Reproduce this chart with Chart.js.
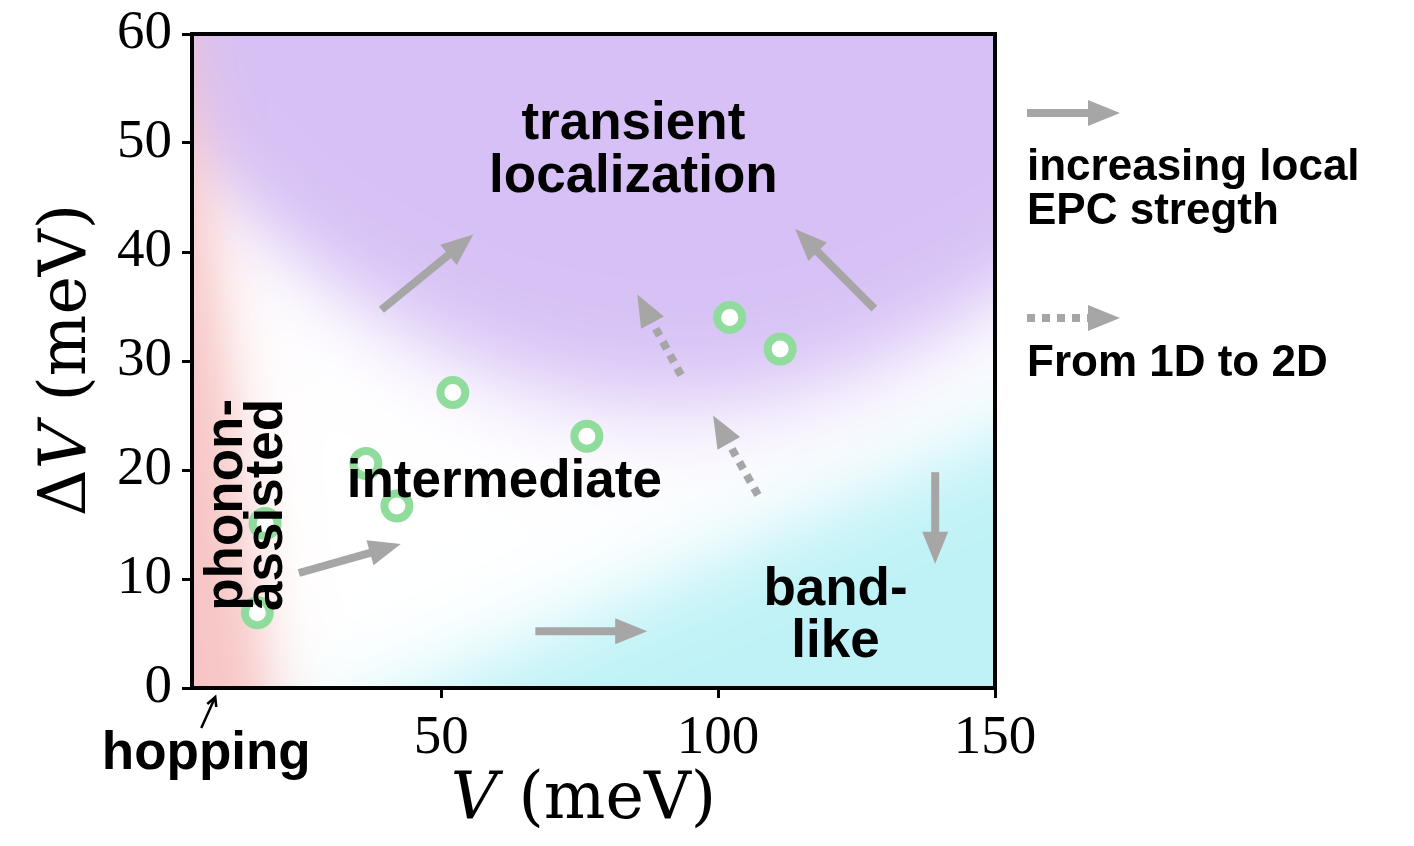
<!DOCTYPE html>
<html>
<head>
<meta charset="utf-8">
<script src="https://cdn.jsdelivr.net/npm/chart.js@4.4.1/dist/chart.umd.min.js"></script>
<style>
  body { margin: 0; background: #fff; }
  #wrap { width: 1414px; height: 846px; }
</style>
</head>
<body>
<div id="wrap"><canvas id="regimeChart"></canvas></div>
<script>
// values (V and dV in meV)
const couplingV  = [16.8, 18.2, 36.4, 42.0, 52.1, 76.3, 102.1, 111.2];
const disorderDV = [6.9, 15.1, 20.6, 16.7, 27.1, 23.1, 34.0, 31.1];
const xTicks = [50, 100, 150];
const yTicks = [0, 10, 20, 30, 40, 50, 60];

// regime names, placed in data units
const regionLabels = [
  { text: 'transient',    v: 84.7,  dv: 50.4 },
  { text: 'localization', v: 84.7,  dv: 45.5 },
  { text: 'intermediate', v: 61.4,  dv: 17.5 },
  { text: 'band-',        v: 121.2, dv: 7.6 },
  { text: 'like',         v: 121.2, dv: 2.8 },
  { text: 'phonon-',      v: 14.0,  dv: 16.8, rotate: true },
  { text: 'assisted',     v: 21.3,  dv: 16.8, rotate: true }
];

// trend arrows, tail -> tip in data units
const arrows = [
  { from: [39.2, 34.7],  to: [55.8, 41.6],  dashed: false },
  { from: [128.2, 34.8], to: [113.9, 42.1], dashed: false },
  { from: [139.2, 19.8], to: [139.2, 11.4], dashed: false },
  { from: [67.0, 5.2],   to: [87.2, 5.2],   dashed: false },
  { from: [24.3, 10.55], to: [42.7, 13.2],  dashed: false },
  { from: [93.3, 28.7],  to: [85.4, 36.1],  dashed: true },
  { from: [107.2, 17.7], to: [99.1, 25.0],  dashed: true }
];

const ARROW_GREY = '#a6a6a6';
const BOLD = 'bold 53px "Liberation Sans", Arial, sans-serif';
const KEY_FONT = 'bold 44px "Liberation Sans", Arial, sans-serif';

function drawArrow(ctx, x1, y1, x2, y2, dashed) {
  const ang = Math.atan2(y2 - y1, x2 - x1);
  const headLen = 32, headHalf = 13;
  const bx = x2 - headLen * Math.cos(ang), by = y2 - headLen * Math.sin(ang);
  ctx.save();
  ctx.strokeStyle = ARROW_GREY;
  ctx.fillStyle = ARROW_GREY;
  ctx.lineWidth = 8;
  ctx.lineCap = 'butt';
  if (dashed) ctx.setLineDash([8, 7]);
  ctx.beginPath();
  ctx.moveTo(x1, y1);
  ctx.lineTo(bx + 2 * Math.cos(ang), by + 2 * Math.sin(ang));
  ctx.stroke();
  ctx.setLineDash([]);
  ctx.beginPath();
  ctx.moveTo(x2, y2);
  ctx.lineTo(bx + headHalf * Math.sin(ang), by - headHalf * Math.cos(ang));
  ctx.lineTo(bx - headHalf * Math.sin(ang), by + headHalf * Math.cos(ang));
  ctx.closePath();
  ctx.fill();
  ctx.restore();
}

function sig(z) { return 1 / (1 + Math.exp(-z)); }

// soft coloured regimes behind the points
const regimeBackground = {
  id: 'regimeBackground',
  beforeDatasetsDraw(chart) {
    const { ctx, chartArea: a, scales: { x, y } } = chart;
    const w = Math.round(a.right - a.left), h = Math.round(a.bottom - a.top);
    const off = document.createElement('canvas');
    off.width = w; off.height = h;
    const octx = off.getContext('2d');
    const img = octx.createImageData(w, h);
    const purple = [214, 192, 245], cyan = [190, 242, 246], red = [247, 196, 196];
    for (let j = 0; j < h; j++) {
      const dv = y.getValueForPixel(a.top + j + 0.5);
      for (let i = 0; i < w; i++) {
        const v = x.getValueForPixel(a.left + i + 0.5);
        const pb = 26 + 0.00294 * (v - 92) * (v - 92);
        const p = sig((dv - pb) / 2.6);
        const c = sig((0.225 * (v - 47) - dv) / 2.4);
        const r = sig((19 - 0.25 * dv - v) / 3);
        let col = [255, 255, 255];
        for (let k = 0; k < 3; k++) {
          col[k] = col[k] + (cyan[k] - col[k]) * c;
          col[k] = col[k] + (purple[k] - col[k]) * p;
          col[k] = col[k] + (red[k] - col[k]) * r;
        }
        const idx = (j * w + i) * 4;
        img.data[idx] = col[0]; img.data[idx + 1] = col[1]; img.data[idx + 2] = col[2]; img.data[idx + 3] = 255;
      }
    }
    octx.putImageData(img, 0, 0);
    ctx.drawImage(off, a.left, a.top);
    // frame
    ctx.save();
    ctx.strokeStyle = '#000';
    ctx.lineWidth = 4;
    ctx.strokeRect(a.left, a.top, a.right - a.left, a.bottom - a.top);
    ctx.restore();
  },
  afterDatasetsDraw(chart) {
    const { ctx, chartArea: a, scales: { x, y } } = chart;
    arrows.forEach(ar => {
      drawArrow(ctx, x.getPixelForValue(ar.from[0]), y.getPixelForValue(ar.from[1]),
        x.getPixelForValue(ar.to[0]), y.getPixelForValue(ar.to[1]), ar.dashed);
    });

    ctx.save();
    ctx.fillStyle = '#000';
    ctx.font = BOLD;
    regionLabels.forEach(l => {
      const px = x.getPixelForValue(l.v), py = y.getPixelForValue(l.dv);
      ctx.textAlign = 'center';
      ctx.textBaseline = 'alphabetic';
      if (l.rotate) {
        ctx.save();
        ctx.translate(px, py);
        ctx.rotate(-Math.PI / 2);
        ctx.fillText(l.text, 0, 0);
        ctx.restore();
      } else {
        ctx.fillText(l.text, px, py);
      }
    });

    // "hopping" pointer below the axis
    const hx = x.getPixelForValue(9.2);
    ctx.strokeStyle = '#000';
    ctx.lineWidth = 2.5;
    ctx.beginPath();
    ctx.moveTo(hx - 14, a.bottom + 40);
    ctx.lineTo(hx, a.bottom + 9);
    ctx.moveTo(hx - 8, a.bottom + 16);
    ctx.lineTo(hx, a.bottom + 9);
    ctx.lineTo(hx + 1, a.bottom + 19);
    ctx.stroke();
    ctx.textAlign = 'center';
    ctx.fillText('hopping', hx - 9, a.bottom + 81);

    // key on the right
    const kx = a.right + 32;
    drawArrow(ctx, kx, 113, kx + 93, 113, false);
    drawArrow(ctx, kx, 318, kx + 93, 318, true);
    ctx.font = KEY_FONT;
    ctx.textAlign = 'left';
    ctx.fillText('increasing local', kx, 180);
    ctx.fillText('EPC stregth', kx, 224);
    ctx.fillText('From 1D to 2D', kx, 376);
    ctx.restore();
  },
  afterDraw(chart) {
    const { ctx, chartArea: a } = chart;
    const reg = '65px "DejaVu Serif", serif', ital = 'italic 65px "DejaVu Serif", serif';
    ctx.save();
    ctx.fillStyle = '#000';
    ctx.textBaseline = 'alphabetic';
    ctx.textAlign = 'left';
    // x title: V (meV)
    ctx.font = ital; const wv = ctx.measureText('V').width;
    ctx.font = reg; const wr = ctx.measureText(' (meV)').width;
    let sx = (a.left + a.right) / 2 - (wv + wr) / 2 - 10;
    ctx.font = ital; ctx.fillText('V', sx, 818);
    ctx.font = reg; ctx.fillText(' (meV)', sx + wv, 818);
    // y title: ΔV (meV)
    ctx.translate(85, 360);
    ctx.rotate(-Math.PI / 2);
    ctx.font = reg; const wd = ctx.measureText('\u0394').width;
    const tot = wd + wv + wr;
    let s = -tot / 2;
    ctx.fillText('\u0394', s, 0);
    ctx.font = ital; ctx.fillText('V', s + wd, 0);
    ctx.font = reg; ctx.fillText(' (meV)', s + wd + wv, 0);
    ctx.restore();
  }
};

const tickFont = { family: '"Liberation Serif", serif', size: 55 };

new Chart(document.getElementById('regimeChart'), {
  type: 'scatter',
  data: {
    datasets: [{
      data: couplingV.map((v, i) => ({ x: v, y: disorderDV[i] })),
      pointRadius: 12.5,
      pointHoverRadius: 12.5,
      borderWidth: 8,
      borderColor: '#8fdc9c',
      backgroundColor: '#ffffff'
    }]
  },
  options: {
    responsive: true,
    maintainAspectRatio: false,
    animation: false,
    events: [],
    layout: { padding: { left: 0, right: 419, top: 34, bottom: 0 } },
    plugins: { legend: { display: false }, tooltip: { enabled: false } },
    scales: {
      x: {
        type: 'linear', min: 5, max: 150,
        afterBuildTicks: s => { s.ticks = xTicks.map(v => ({ value: v })); },
        afterFit: s => { s.height = 158; s.paddingLeft = 0; s.paddingRight = 0; },
        ticks: { font: tickFont, color: '#000', padding: 8, maxRotation: 0 },
        grid: { drawOnChartArea: false, tickLength: 10, tickWidth: 3, tickColor: '#000' },
        border: { display: true, width: 4, color: '#000' }
      },
      y: {
        type: 'linear', min: 0, max: 60,
        afterBuildTicks: s => { s.ticks = yTicks.map(v => ({ value: v })); },
        afterFit: s => { s.width = 192; s.paddingTop = 0; s.paddingBottom = 0; },
        ticks: { font: tickFont, color: '#000', padding: 10 },
        grid: { drawOnChartArea: false, tickLength: 10, tickWidth: 3, tickColor: '#000' },
        border: { display: true, width: 4, color: '#000' }
      }
    }
  },
  plugins: [regimeBackground]
});
</script>
</body>
</html>
